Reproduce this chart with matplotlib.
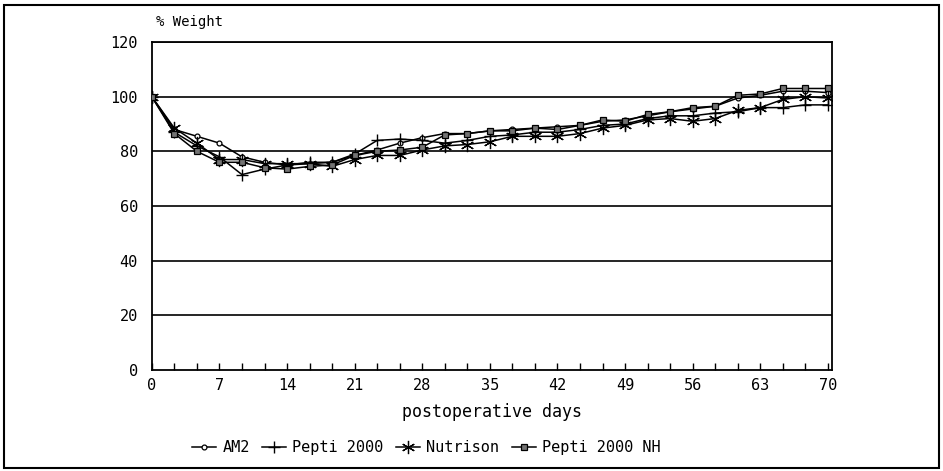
import matplotlib.pyplot as plt
from matplotlib.patches import Rectangle

days = [0, 2.33, 4.67, 7, 9.33, 11.67, 14, 16.33, 18.67, 21, 23.33, 25.67, 28, 30.33,
        32.67, 35, 37.33, 39.67, 42, 44.33, 46.67, 49, 51.33, 53.67, 56, 58.33, 60.67,
        63, 65.33, 67.67, 70]

am2 = [100, 88, 85.5, 83, 78, 76, 75, 75.5, 76, 78.5, 80.5, 83, 85, 86.5, 86.5, 87.5,
       88, 88.5, 89, 89.5, 91, 91.5, 93, 94.5, 95.5, 96.5, 99.5, 100.5, 102, 102, 101.5]
pepti = [100, 87, 82, 78, 71.5, 73.5, 75, 76, 76, 79, 84, 84.5, 84, 83, 84, 85.5,
         86, 87, 87, 88, 89.5, 90, 92, 93, 93, 94, 94.5, 96, 96, 97, 97]
nutrison = [100, 88.5, 83, 77, 77, 75.5, 75.5, 75.5, 74.5, 77, 78.5, 78.5, 80.5, 82, 82.5, 83.5,
            85.5, 85.5, 85.5, 86.5, 88.5, 89.5, 91.5, 92, 91, 92, 95, 96, 99, 100, 99.5]
pepti_nh = [100, 86.5, 80, 76, 76, 74, 73.5, 74.5, 75, 78.5, 80, 80.5, 81.5, 86, 86.5, 87.5,
            87.5, 88.5, 88, 89.5, 91.5, 91, 93.5, 94.5, 96, 96.5, 100.5, 101, 103, 103, 103]

xticks = [0, 7, 14, 21, 28, 35, 42, 49, 56, 63, 70]
yticks = [0, 20, 40, 60, 80, 100, 120]

plt.rcParams['font.family'] = 'DejaVu Sans Mono'

fig = plt.figure(figsize=(9.43, 4.71), dpi=100)
ax = fig.add_axes([0.161, 0.2144, 0.721, 0.6964])

for y in yticks[1:]:
    ax.axhline(y, color='black', lw=1.2, zorder=1)

ax.plot(days, am2, color='black', lw=1.1, marker='o', ms=3.5, mfc='white', mec='black',
        mew=0.9, label='AM2', zorder=3)
ax.plot(days, pepti, color='black', lw=1.1, marker='+', ms=9, mew=1.0,
        label='Pepti 2000', zorder=3)
ax.plot(days, nutrison, color='black', lw=1.1, marker=(6, 2, 0), ms=9.5, mew=0.9,
        label='Nutrison', zorder=3)
ax.plot(days, pepti_nh, color='black', lw=1.1, marker='s', ms=5, mfc='0.45', mec='black',
        mew=0.9, label='Pepti 2000 NH', zorder=3)

ax.set_xlim(0, 70.4)
ax.set_ylim(0, 120)
ax.set_xticks(xticks)
ax.set_xticks(days, minor=True)
ax.set_yticks(yticks)
ax.tick_params(axis='x', which='both', direction='in', length=5, width=1, labelsize=11, pad=6)
ax.tick_params(axis='y', length=0, labelsize=11, pad=10)
for s in ax.spines.values():
    s.set_linewidth(1.3)

ax.set_xlabel('postoperative days', fontsize=12, labelpad=7)
fig.text(0.201, 0.953, '% Weight', fontsize=10, ha='center', va='center')

fig.legend(loc='center', bbox_to_anchor=(0.452, 0.05), ncol=4, frameon=False,
           fontsize=11, handlelength=1.6, handletextpad=0.4, columnspacing=0.8)

fig.patches.append(Rectangle((0.004, 0.006), 0.992, 0.984, transform=fig.transFigure,
                             fill=False, edgecolor='black', lw=1.5))

fig.savefig('out.png', dpi=100)
